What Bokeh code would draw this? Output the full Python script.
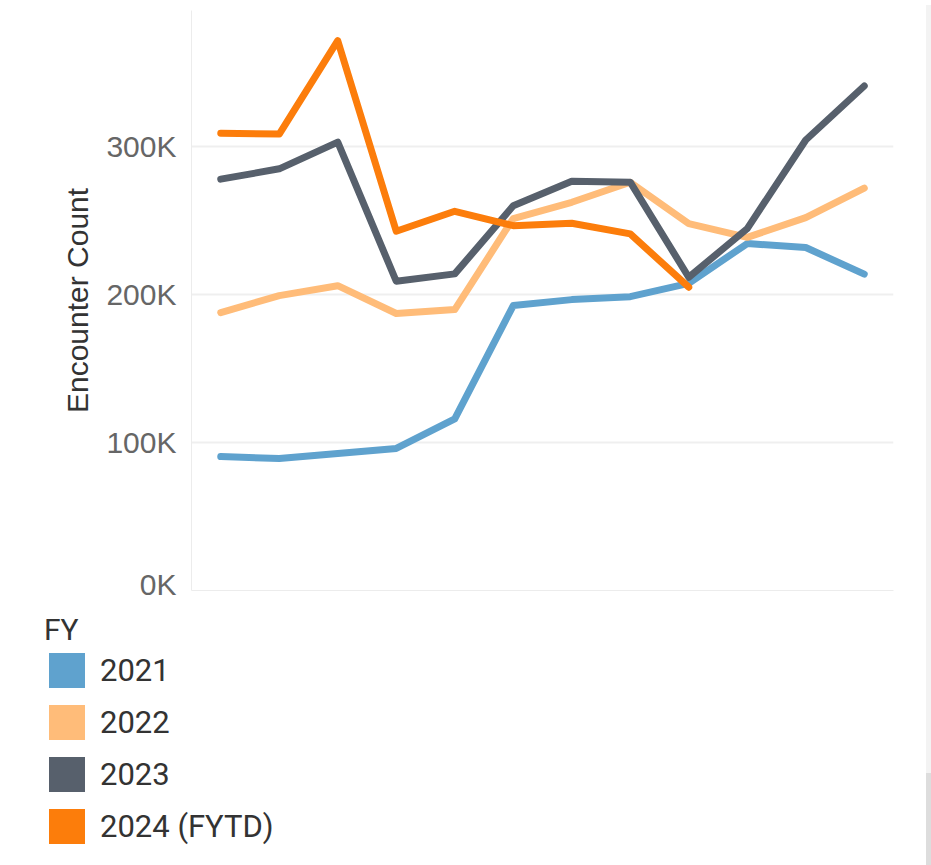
from bokeh.plotting import figure
from bokeh.models import FactorRange, Range1d, FixedTicker, Legend, LegendItem, Div
from bokeh.layouts import row, column
from bokeh.embed import file_html
from bokeh.resources import INLINE

# ---- data ----
months = ["Oct", "Nov", "Dec", "Jan", "Feb", "Mar", "Apr", "May", "Jun", "Jul", "Aug", "Sep"]
fy2021 = [90500, 89200, 92600, 96000, 116000, 192600, 196600, 198600, 207600, 234500, 231800, 213800]
fy2022 = [187800, 199300, 206000, 187200, 189900, 251400, 262400, 275900, 248000, 238700, 252000, 272000]
fy2023 = [278000, 285000, 303000, 209000, 214000, 260000, 276600, 276000, 211700, 244600, 304500, 341000]
fy2024 = [309000, 308500, 371600, 242800, 256300, 246600, 248200, 241000, 205000]

series_names = ["2021", "2022", "2023", "2024 (FYTD)"]
series_values = [fy2021, fy2022, fy2023, fy2024]
series_colors = ["#5fa2ce", "#ffbc79", "#57606c", "#fc7d0b"]

y_ticks = [0, 100000, 200000, 300000]
y_tick_labels = ["0K", "100K", "200K", "300K"]

# ---- main chart ----
p = figure(
    width=921, height=600,
    x_range=FactorRange(*months, range_padding=0),
    y_range=Range1d(0, 392000),
    output_backend="svg", toolbar_location=None,
    min_border_left=191, min_border_right=28,
    min_border_top=10, min_border_bottom=10,
)
p.outline_line_color = None
p.background_fill_color = "white"
p.border_fill_color = "white"

for name, vals, col in zip(series_names, series_values, series_colors):
    p.line(x=months[:len(vals)], y=vals, line_color=col, line_width=7,
           line_cap="round", line_join="round")

# y axis
p.yaxis.ticker = FixedTicker(ticks=y_ticks)
p.yaxis.major_label_overrides = {t: l for t, l in zip(y_ticks, y_tick_labels)}
p.yaxis.major_label_text_font = "Liberation Sans"
p.yaxis.major_label_text_font_size = "30px"
p.yaxis.major_label_text_color = "#666666"
p.yaxis.major_tick_line_color = None
p.yaxis.minor_tick_line_color = None
p.yaxis.major_tick_out = 0
p.yaxis.major_tick_in = 0
p.yaxis.major_label_standoff = 15
p.yaxis.axis_line_color = "#ececec"
p.yaxis.axis_label = "Encounter Count"
p.yaxis.axis_label_text_font = "Liberation Sans"
p.yaxis.axis_label_text_font_size = "30px"
p.yaxis.axis_label_text_font_style = "normal"
p.yaxis.axis_label_text_color = "#333333"
p.yaxis.axis_label_standoff = 9

# x axis (no labels)
p.xaxis.major_label_text_font_size = "0px"
p.xaxis.major_label_text_color = None
p.xaxis.major_tick_line_color = None
p.xaxis.minor_tick_line_color = None
p.xaxis.major_tick_out = 0
p.xaxis.axis_line_color = "#ececec"

p.xgrid.grid_line_color = None
p.ygrid.grid_line_color = "#efefef"
p.ygrid.grid_line_width = 2

# ---- legend panel ----
lg = figure(
    width=921, height=265, output_backend="svg", toolbar_location=None,
    x_axis_type=None, y_axis_type=None,
    x_range=Range1d(0, 1), y_range=Range1d(0, 1),
    min_border_left=0, min_border_right=0, min_border_top=0, min_border_bottom=0,
)
lg.outline_line_color = None
lg.xgrid.grid_line_color = None
lg.ygrid.grid_line_color = None

# zero-area proxies: only their legend swatches are visible
items = []
for name, col in zip(series_names, series_colors):
    r = lg.quad(left=[0], right=[0], top=[0], bottom=[0], fill_color=col, line_color=None)
    items.append(LegendItem(label=name, renderers=[r]))

legend = Legend(
    items=items, title="FY", location=(44, 17),
    orientation="vertical",
    glyph_width=45, glyph_height=44, spacing=8, label_standoff=11,
    padding=0, margin=0,
    border_line_color=None, background_fill_color=None, background_fill_alpha=0,
    label_text_font="Roboto", label_text_font_size="31px", label_text_color="#333333",
    title_text_font="Roboto", title_text_font_size="30px", title_text_color="#333333",
    title_text_font_style="normal", title_standoff=1,
)
lg.add_layout(legend)

scroll = Div(width=10, height=865, styles={
    "background": "linear-gradient(to bottom, #f3f3f3 0px, #f3f3f3 768px, #dddddd 768px, #dddddd 865px)"
})

layout = row(column(p, row(lg)), scroll)

open("out.html", "w").write(file_html(layout, INLINE))
